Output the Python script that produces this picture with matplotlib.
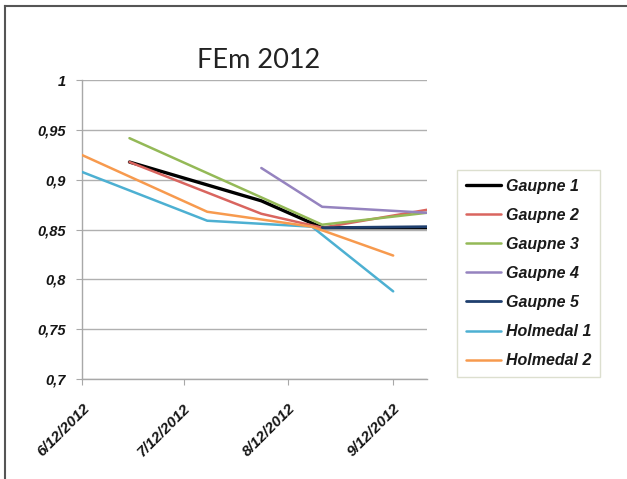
import datetime as dt
import matplotlib
matplotlib.use("Agg")
import matplotlib.pyplot as plt
import matplotlib.dates as mdates
from matplotlib.lines import Line2D
from matplotlib.ticker import FuncFormatter

d = dt.date

# measurement series
gaupne1_dates = [d(2012, 6, 26), d(2012, 8, 4), d(2012, 8, 22), d(2012, 9, 22)]
gaupne1_vals = [0.918, 0.879, 0.852, 0.852]
gaupne2_dates = [d(2012, 6, 26), d(2012, 8, 4), d(2012, 8, 22), d(2012, 9, 22)]
gaupne2_vals = [0.918, 0.866, 0.852, 0.870]
gaupne3_dates = [d(2012, 6, 26), d(2012, 8, 22), d(2012, 9, 22)]
gaupne3_vals = [0.942, 0.855, 0.867]
gaupne4_dates = [d(2012, 8, 4), d(2012, 8, 22), d(2012, 9, 22)]
gaupne4_vals = [0.912, 0.873, 0.867]
gaupne5_dates = [d(2012, 8, 22), d(2012, 9, 22)]
gaupne5_vals = [0.852, 0.853]
holmedal1_dates = [d(2012, 6, 12), d(2012, 7, 19), d(2012, 8, 19), d(2012, 9, 12)]
holmedal1_vals = [0.908, 0.859, 0.853, 0.788]
holmedal2_dates = [d(2012, 6, 12), d(2012, 7, 19), d(2012, 8, 19), d(2012, 9, 12)]
holmedal2_vals = [0.925, 0.868, 0.853, 0.824]

series = [
    ("Gaupne 1", gaupne1_dates, gaupne1_vals, "#000000", 2.4),
    ("Gaupne 2", gaupne2_dates, gaupne2_vals, "#d9655f", 1.8),
    ("Gaupne 3", gaupne3_dates, gaupne3_vals, "#94b957", 1.8),
    ("Gaupne 4", gaupne4_dates, gaupne4_vals, "#9583bf", 1.8),
    ("Gaupne 5", gaupne5_dates, gaupne5_vals, "#1f3f6e", 2.0),
    ("Holmedal 1", holmedal1_dates, holmedal1_vals, "#4db0d2", 1.8),
    ("Holmedal 2", holmedal2_dates, holmedal2_vals, "#f79a4e", 1.8),
]

tick_dates = [d(2012, 6, 12), d(2012, 7, 12), d(2012, 8, 12), d(2012, 9, 12)]
y_ticks = [0.7, 0.75, 0.8, 0.85, 0.9, 0.95, 1.0]

fig = plt.figure(figsize=(6.27, 4.79), dpi=100)
ax = fig.add_axes([0.131, 0.209, 0.550, 0.623])

for name, xs, ys, col, lw in series:
    ax.plot(xs, ys, color=col, lw=lw, label=name, solid_capstyle="round", zorder=3)

ax.set_xlim(d(2012, 6, 12), d(2012, 9, 22))
ax.set_ylim(0.7, 1.0)
ax.set_yticks(y_ticks)
ax.set_xticks(tick_dates)

def fmt_y(v, pos):
    s = ("%.2f" % v).rstrip("0").rstrip(".")
    return s.replace(".", ",")

def fmt_x(v, pos):
    t = mdates.num2date(v)
    return "%d/%d/%d" % (t.month, t.day, t.year)

ax.yaxis.set_major_formatter(FuncFormatter(fmt_y))
ax.xaxis.set_major_formatter(FuncFormatter(fmt_x))

tick_font = dict(family="Liberation Sans", weight="bold", style="italic", color="#151515")
for lab in ax.get_yticklabels():
    lab.set(size=10.5, **tick_font)
for lab in ax.get_xticklabels():
    lab.set(size=11, **tick_font)
    lab.set_rotation(45)
    lab.set_ha("right")
    lab.set_va("top")
    lab.set_rotation_mode("anchor")

ax.grid(axis="y", color="#b0b0b0", lw=1.0)
ax.set_axisbelow(True)
for s in ["top", "right"]:
    ax.spines[s].set_visible(False)
for s in ["left", "bottom"]:
    ax.spines[s].set_color("#a8a8a8")
    ax.spines[s].set_linewidth(1.0)
ax.tick_params(axis="both", length=4, color="#a8a8a8")
ax.tick_params(axis="y", pad=8)
ax.tick_params(axis="x", pad=12)

fig.text(0.413, 0.857, "FEm 2012", family="Lato", size=19.5, color="#222222", ha="center", va="baseline")

leg = fig.legend(loc="upper left", bbox_to_anchor=(0.729, 0.645),
                 prop=dict(family="Liberation Sans", weight="bold", style="italic", size=11.5),
                 frameon=True, fancybox=False, handlelength=2.2, handletextpad=0.3,
                 labelspacing=0.88, borderpad=0.55, borderaxespad=0)
leg.get_frame().set_edgecolor("#d4d8c4")
leg.get_frame().set_linewidth(1.0)
for t in leg.get_texts():
    t.set_color("#1a1a1a")

# page frame
fig.add_artist(Line2D([5 / 627, 1.0], [1 - 6 / 479, 1 - 6 / 479], color="#555555", lw=1.5))
fig.add_artist(Line2D([5 / 627, 5 / 627], [0.0, 1 - 6 / 479], color="#555555", lw=1.5))

fig.savefig("out.png", dpi=100)
